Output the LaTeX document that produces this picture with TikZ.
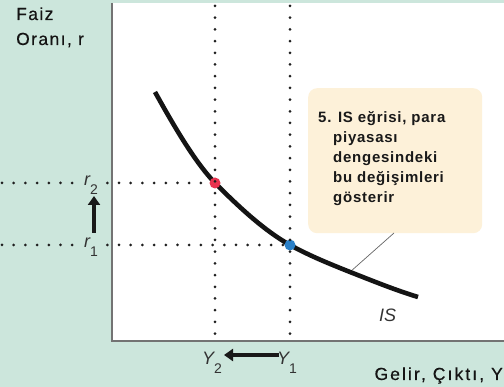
\documentclass[tikz,border=0pt]{standalone}
\usepackage{fontspec}
\setmainfont{Liberation Sans}
\usetikzlibrary{arrows.meta}
\definecolor{bggreen}{RGB}{204,230,220}
\definecolor{cream}{RGB}{253,241,217}
\definecolor{dotred}{RGB}{232,51,79}
\definecolor{dotblue}{RGB}{42,128,200}
\newcommand{\sublbl}[2]{{\itshape #1}\raisebox{-9pt}{\fontsize{14}{14}\selectfont #2}}
\begin{document}
\begin{tikzpicture}[x=1pt,y=-1pt,
  dotline/.style={line width=3pt,line cap=round,dash pattern=on 0pt off 11.7pt,black!88},
  axisline/.style={draw=black!55,line width=1.3pt},
  shiftarrow/.style={line width=4.5pt,-{Triangle[length=9pt,width=12pt]},black!90},
  lbl/.style={font=\fontsize{17.5}{18}\selectfont\addfontfeature{LetterSpace=8,FakeBold=0.4},text=black!92,inner sep=0pt},
  var/.style={font=\fontsize{18}{18}\selectfont,text=black!80,inner sep=1pt},
  eqdot/.style={circle,inner sep=0pt,minimum size=11pt}]
\useasboundingbox (0,0) rectangle (504,387);
\fill[bggreen] (0,0) rectangle (504,387);
\fill[white] (112,3) rectangle (504,341);
\draw[axisline] (112,3) -- (112,341) -- (504,341);
% callout box
\node[fill=cream,rounded corners=9pt,minimum width=174pt,minimum height=145pt,anchor=north west,inner sep=0pt] (box) at (308,88) {};
\coordinate (lead) at (350,272);
\coordinate (leadtop) at (394,233);
\draw[black!60,line width=0.7pt] (leadtop) -- (lead);
% curve
\draw[line width=4.6pt,black!92] (155,92) .. controls (175,128) and (195,162) .. (215,183)
  .. controls (241,209) and (265,231) .. (290,245)
  .. controls (310,256) and (330,264) .. (350,272)
  .. controls (373,281) and (395,290) .. (418,297);
% dots
\node[eqdot,fill=dotred] (p2) at (215,183) {};
\node[eqdot,fill=dotblue] (p1) at (290,245) {};
\coordinate (l2) at (2,183);
\coordinate (l1) at (2,245);
\coordinate (t2) at (215,6);
\coordinate (t1) at (290,6);
\coordinate (b2) at (215,334);
\coordinate (b1) at (290,334);
\draw[dotline] (t2) -- (b2);
\draw[dotline] (t1) -- (b1);
\draw[dotline] (l2) -- (p2);
\draw[dotline] (l1) -- (p1);
% r labels covering the dots
\node[var,fill=bggreen,anchor=base west,inner sep=2pt] (r2) at (82,186) {\sublbl{r}{2}};
\node[var,fill=bggreen,anchor=base west,inner sep=2pt] (r1) at (82,248) {\sublbl{r}{1}};
% labels
\node[lbl,anchor=base west] (faiz) at (16,20) {Faiz};
\node[lbl,anchor=base west] (oran) at (16,45) {Oranı, r};
\node[lbl,anchor=base east,font=\fontsize{17.5}{18}\selectfont\addfontfeature{LetterSpace=12,FakeBold=0.4}] (gelir) at (503,380) {Gelir, Çıktı, Y};
\node[var,anchor=base west,inner sep=0pt] (y2) at (202,365) {\sublbl{Y}{2}};
\node[var,anchor=base west,inner sep=0pt] (y1) at (277,365) {\sublbl{Y}{1}};
\node[var,anchor=base west,inner sep=0pt,font=\fontsize{18}{18}\selectfont\itshape] (is) at (379,322) {IS};
\coordinate (upfrom) at (94,233);
\coordinate (upto) at (94,196);
\draw[shiftarrow] (upfrom) -- (upto);
\coordinate (lfrom) at (279,355);
\coordinate (lto) at (224,355);
\draw[shiftarrow] (lfrom) -- (lto);
\node[anchor=base west,inner sep=0pt,align=left,font=\fontsize{15}{20}\selectfont\bfseries\addfontfeature{LetterSpace=5},text=black!90] (txt) at (318,203) {5. IS eğrisi, para\\\hspace{15pt}piyasası\\\hspace{15pt}dengesindeki\\\hspace{15pt}bu değişimleri\\\hspace{15pt}gösterir};
\end{tikzpicture}
\end{document}
